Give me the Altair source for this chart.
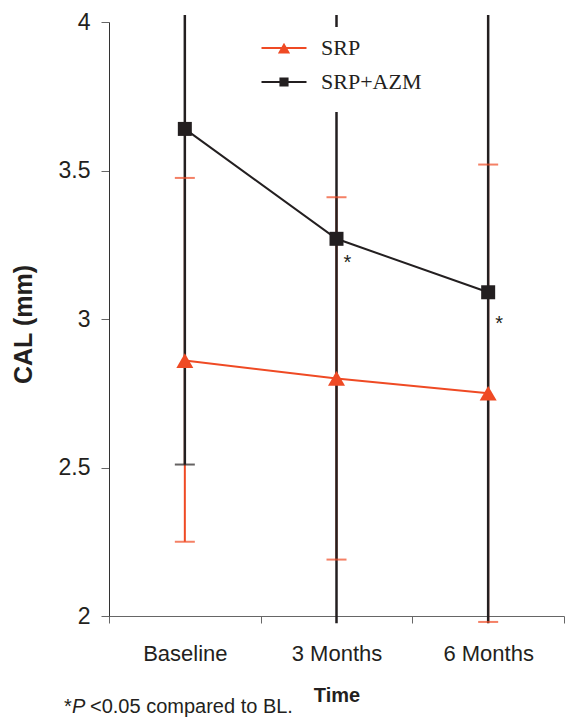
import altair as alt
import pandas as pd

# ---------------- data ----------------
categories = ["Baseline", "3 Months", "6 Months"]
series_names = ["SRP", "SRP+AZM"]

srp_mean = [2.86, 2.80, 2.75]
srp_low = [2.25, 2.19, 1.98]
srp_high = [3.475, 3.41, 3.52]

azm_mean = [3.64, 3.27, 3.09]
azm_low = [2.51, 1.87, 1.79]     # lower ends beyond the frame are estimates
azm_high = [4.77, 4.67, 4.39]    # upper ends beyond the frame are estimates

sig_times = ["3 Months", "6 Months"]
sig_text = ["*", "*"]
sig_value = [3.170, 2.962]

y_ticks = [2, 2.5, 3, 3.5, 4]
footnote_parts = ["*", "P", "<0.05 compared to BL."]

RED = "#EF4A24"
BLACK = "#231F20"
VIS_LO, VIS_HI = 1.976, 4.0236   # visible range of the error bars (frame clip)

rows = []
for s, ms, los, his in [("SRP", srp_mean, srp_low, srp_high),
                        ("SRP+AZM", azm_mean, azm_low, azm_high)]:
    for c, m, lo, hi in zip(categories, ms, los, his):
        rows.append({"series": s, "time": c, "mean": m, "lo": lo, "hi": hi})
df = pd.DataFrame(rows)

sig_df = pd.DataFrame({"time": sig_times, "mark": sig_text, "v": sig_value})

# ---------------- encodings ----------------
FONT = "Liberation Sans"

x_axis = alt.Axis(
    title="Time", titleFontSize=20, titleFontWeight="bold", titleFont=FONT,
    titleColor=BLACK, titleY=69,
    labelAngle=0, labelFontSize=22, labelFont=FONT, labelColor=BLACK,
    labelPadding=20, tickBand="extent", tickSize=7, tickColor="#666666",
    domainColor="#666666", grid=False,
)
y_axis = alt.Axis(
    title="CAL (mm)", titleFontSize=25, titleFontWeight="bold", titleFont=FONT,
    titleColor=BLACK, titleX=-73, titleY=302,
    values=y_ticks, format="~g", labelFontSize=23, labelFont=FONT,
    labelColor=BLACK, labelPadding=11, tickSize=8, tickColor="#666666",
    domainColor="#333333", grid=False,
)
x_scale = alt.Scale(type="band", domain=categories, paddingInner=0, paddingOuter=0)
y_scale = alt.Scale(domain=[2, 4], nice=False, zero=False)


def X(field="time:N"):
    return alt.X(field, scale=x_scale, axis=x_axis, bandPosition=0.5, sort=categories)


def Y(field):
    return alt.Y(field, scale=y_scale, axis=y_axis)


base = alt.Chart(df)


def series_layers(name, color, width, shape, size):
    sub = base.transform_filter(alt.datum.series == name)
    rule = sub.transform_calculate(
        lo_v=f"max(datum.lo, {VIS_LO})", hi_v=f"min(datum.hi, {VIS_HI})"
    ).mark_rule(color=color, strokeWidth=width).encode(
        x=X(), y=Y("lo_v:Q"), y2="hi_v:Q"
    )
    caps = sub.transform_fold(["lo", "hi"], as_=["end", "v"]).transform_filter(
        f"datum.v >= {VIS_LO} && datum.v <= {VIS_HI}"
    ).mark_tick(color=color, orient="horizontal", size=20, thickness=2).encode(
        x=X(), y=Y("v:Q")
    )
    line = sub.mark_line(color=color, strokeWidth=2).encode(x=X(), y=Y("mean:Q"))
    pts = sub.mark_point(shape=shape, filled=True, size=size, color=color,
                         opacity=1).encode(x=X(), y=Y("mean:Q"))
    return rule, caps, line, pts


r_rule, r_caps, r_line, r_pts = series_layers("SRP", RED, 2, "triangle-up", 289)
b_rule, b_caps, b_line, b_pts = series_layers("SRP+AZM", BLACK, 2.5, "square", 196)

stars = alt.Chart(sig_df).mark_text(
    dx=11, align="center", baseline="alphabetic", fontSize=20, font=FONT, color=BLACK
).encode(x=X(), y=Y("v:Q"), text="mark:N")

# legend (line + marker symbols)
TRI_PATH = "M-1.875,-0.085H1.875V0.085H-1.875Z M0,-0.43L0.51,0.46H-0.51Z"
SQ_PATH = "M-1.875,-0.085H1.875V0.085H-1.875Z M-0.38,-0.38H0.38V0.38H-0.38Z"
leg = alt.Legend(
    title=" ", titleOrient="bottom", titleFontSize=1, titlePadding=9,
    orient="none", legendX=154, legendY=5, padding=9,
    fillColor="white", symbolSize=576, symbolStrokeWidth=0, symbolOpacity=1,
    labelFont="Liberation Serif", labelFontSize=22, labelColor=BLACK,
    labelOffset=25, rowPadding=11, labelLimit=0,
)
legend_layer = base.mark_point(filled=True, opacity=0).encode(
    x=X(), y=Y("mean:Q"),
    fill=alt.Fill("series:N", scale=alt.Scale(domain=series_names, range=[RED, BLACK]), legend=leg),
    shape=alt.Shape("series:N", scale=alt.Scale(domain=series_names, range=[TRI_PATH, SQ_PATH]), legend=leg),
)

# footnote
FOOT_Y = 691
foot_star = alt.Chart(pd.DataFrame({"t": [footnote_parts[0]]})).mark_text(
    align="left", baseline="alphabetic", fontSize=20, font=FONT, color=BLACK
).encode(x=alt.value(-45), y=alt.value(FOOT_Y), text="t:N")
foot_p = alt.Chart(pd.DataFrame({"t": [footnote_parts[1]]})).mark_text(
    align="left", baseline="alphabetic", fontSize=20, font=FONT, fontStyle="italic", color=BLACK
).encode(x=alt.value(-37), y=alt.value(FOOT_Y), text="t:N")
foot_rest = alt.Chart(pd.DataFrame({"t": [footnote_parts[2]]})).mark_text(
    align="left", baseline="alphabetic", fontSize=20, font=FONT, color=BLACK
).encode(x=alt.value(-19), y=alt.value(FOOT_Y), text="t:N")

chart = alt.layer(
    r_rule, b_rule, r_caps, b_caps, r_line, r_pts, b_line, b_pts, stars,
    legend_layer, foot_star, foot_p, foot_rest,
).properties(
    width=455, height=594,
    autosize=alt.AutoSizeParams(type="none"),
    padding={"left": 109, "top": 22, "right": 2, "bottom": 101},
    background="white",
).configure_view(stroke=None)

chart.save("out.html", embed_options={"renderer": "svg", "actions": False})
